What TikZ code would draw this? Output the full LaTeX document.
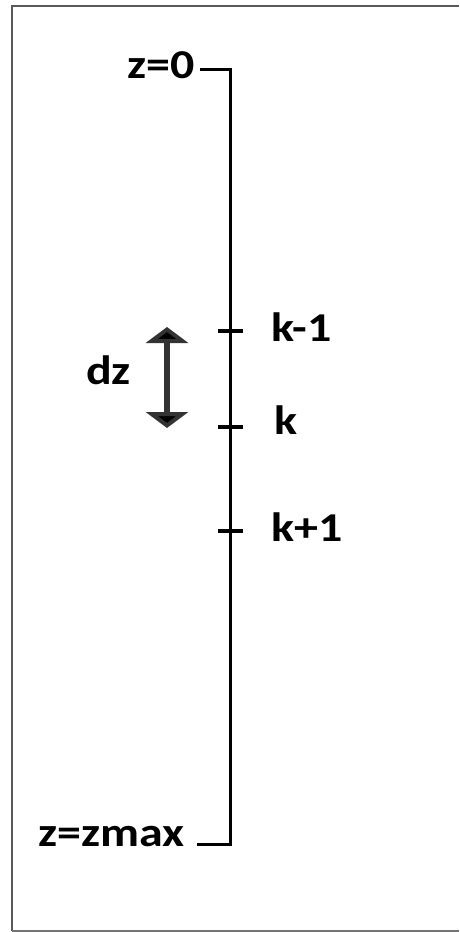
\documentclass[tikz,border=0pt]{standalone}
\usepackage{fontspec}
\setmainfont{Carlito}
\usetikzlibrary{arrows.meta}
\tikzset{
  lbl/.style={inner sep=0pt, anchor=base west, font=\fontsize{41}{48}\selectfont\bfseries},
  mainline/.style={line width=3pt, black},
  tick/.style={line width=4.5pt, black},
  frameline/.style={line width=2pt, black!65}
}
\newcommand{\wtxt}[1]{\scalebox{1.17}[1]{#1}}
\begin{document}
\begin{tikzpicture}[x=1pt,y=-1pt]
\useasboundingbox (0,0) rectangle (459,932);
\fill[white] (0,0) rectangle (459,932);
% frame
\draw[frameline] (459,6) -- (11.5,6) -- (11.5,931);
\draw[line width=1.5pt, black!55] (11.5,931) -- (459,931);
% main axis
\coordinate (top) at (230,69);
\coordinate (bot) at (230,844);
\coordinate (topl) at (200,69);
\coordinate (botl) at (197,844);
\draw[mainline] (topl) -- (top) -- (bot) -- (botl);
% ticks
\coordinate (t1) at (230,331);
\coordinate (t2) at (230,427);
\coordinate (t3) at (230,531);
\foreach \t in {t1,t2,t3} \draw[tick] ([xshift=-12]\t) -- ([xshift=13]\t);
% labels
\node[lbl] (z0) at (127,78) {\wtxt{z=0}};
\node[lbl] (zmax) at (38,846) {\wtxt{z=zmax}};
\node[lbl] (km1) at (271,341) {\wtxt{k-1}};
\node[lbl] (k) at (274,434) {\wtxt{k}};
\node[lbl] (kp1) at (271,541) {\wtxt{k+1}};
\node[lbl] (dz) at (86,384) {\wtxt{dz}};
% dz arrow
\coordinate (atop) at (167,327);
\coordinate (abot) at (167,428);
\draw[line width=6pt, black!80, {Triangle[length=16pt,width=42pt,fill=black]}-{Triangle[length=16pt,width=42pt,fill=black]}] (atop) -- (abot);
\end{tikzpicture}
\end{document}
